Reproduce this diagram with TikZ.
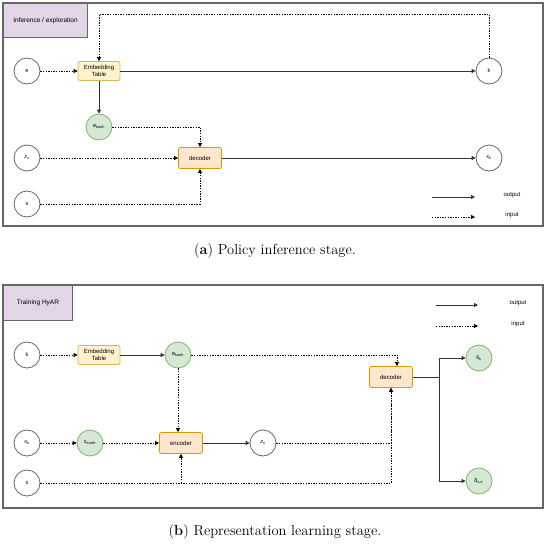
\documentclass[tikz,border=0pt]{standalone}
\usepackage{fontspec}
\usepackage{tikz}
\usetikzlibrary{arrows.meta, positioning, calc}
\newfontfamily\diagfont{Liberation Sans}
\definecolor{lblFill}{HTML}{E1D5E7}
\definecolor{lblLine}{HTML}{9673A6}
\definecolor{embFill}{HTML}{FFF2CC}
\definecolor{embLine}{HTML}{D6B656}
\definecolor{codFill}{HTML}{FFE6CC}
\definecolor{codLine}{HTML}{D79B00}
\definecolor{grnFill}{HTML}{D5E8D4}
\definecolor{grnLine}{HTML}{82B366}
\definecolor{frameGray}{HTML}{666666}

\begin{document}
\begin{tikzpicture}[x=1pt, y=-1pt,
    panel/.style={draw=frameGray, line width=1.2pt},
    labelbox/.style={draw=frameGray, line width=1pt, fill=lblFill, anchor=north west, inner sep=0pt,
      font=\diagfont\fontsize{6.5}{7.5}\selectfont},
    var/.style={circle, draw=frameGray, line width=0.8pt, fill=white, minimum size=26pt, inner sep=0pt,
      font=\diagfont\fontsize{5.5}{6.5}\selectfont},
    gvar/.style={var, draw=grnLine, fill=grnFill},
    embbox/.style={draw=embLine, fill=embFill, line width=0.8pt, rounded corners=2pt, minimum width=42pt,
      minimum height=19pt, inner sep=0pt, align=center, font=\diagfont\fontsize{6}{7.5}\selectfont},
    codbox/.style={draw=codLine, fill=codFill, line width=0.8pt, rounded corners=2pt, minimum width=43pt,
      minimum height=21pt, inner sep=0pt, font=\diagfont\fontsize{6}{7}\selectfont},
    outarrow/.style={draw=black!80, line width=0.9pt, -{Triangle[length=4pt, width=4pt]}},
    inarrow/.style={draw=black, line width=0.7pt, dash pattern=on 1.4pt off 1.2pt, -{Triangle[length=4pt, width=4pt]}},
    legtext/.style={font=\diagfont\fontsize{6}{7}\selectfont},
    captext/.style={font=\fontsize{14.5}{17}\selectfont}]
  \useasboundingbox (0,0) rectangle (550,546);

  % (a) policy inference stage
  \draw[panel] (3,3) rectangle (543,226);
  \node[labelbox, minimum width=84pt, minimum height=34pt] (infLabel) at (3,3) {Inference / exploration};

  \node[var] (eA) at (27,71) {e};
  \node[embbox] (embA) at (99,71) {Embedding\\Table};
  \node[var] (kA) at (489,71) {k};
  \node[gvar] (ekA) at (99,127) {e\textsubscript{kanh}};
  \node[codbox] (decA) at (200,158) {decoder};
  \node[var] (zA) at (27,158) {\textit{z}\textsubscript{x}};
  \node[var] (sA) at (27,204) {s};
  \node[var] (xkA) at (489,158) {x\textsubscript{k}};
  \coordinate (topA) at (99,14);

  \draw[inarrow] (eA) -- (embA);
  \draw[outarrow] (embA) -- (kA);
  \draw[inarrow] (kA.north) |- (topA) -- (embA.north);
  \draw[outarrow] (embA) -- (ekA);
  \draw[inarrow] (ekA) -| (decA.north);
  \draw[inarrow] (zA) -- (decA);
  \draw[inarrow] (sA) -| (decA.south);
  \draw[outarrow] (decA) -- (xkA);

  \coordinate (outA1) at (432,197);
  \coordinate (outA2) at (475,197);
  \coordinate (inA1) at (432,217);
  \coordinate (inA2) at (475,217);
  \draw[outarrow] (outA1) -- (outA2);
  \draw[inarrow] (inA1) -- (inA2);
  \node[legtext] (outTxtA) at (512,195) {output};
  \node[legtext] (inTxtA) at (512,215) {input};

  \node[captext] (capA) at (275,251) {(\textbf{a}) Policy inference stage.};

  % (b) representation learning stage
  \draw[panel] (3,285) rectangle (543,508);
  \node[labelbox, minimum width=69pt, minimum height=35pt] (trainLabel) at (3,285) {Training HyAR};

  \node[var] (kB) at (27,355) {k};
  \node[embbox] (embB) at (99,355) {Embedding\\Table};
  \node[gvar] (ekB) at (178,355) {e\textsubscript{kanh}};
  \node[codbox] (decB) at (391,377) {decoder};
  \node[gvar] (shat) at (479,358) {ŝ\textsubscript{k}};
  \node[gvar] (delta) at (479,481) {δ\textsubscript{s,s'}};
  \node[var] (xkB) at (27,443) {x\textsubscript{k}};
  \node[gvar] (xsc) at (90,443) {x\textsubscript{scale}};
  \node[codbox] (encB) at (181,443) {encoder};
  \node[var] (zB) at (263,443) {\textit{z}\textsubscript{x}};
  \node[var] (sB) at (27,483) {s};
  \coordinate (split) at (439,377);

  \draw[inarrow] (kB) -- (embB);
  \draw[outarrow] (embB) -- (ekB);
  \draw[inarrow] (ekB) -| ($(decB.north)+(6,0)$);
  \draw[inarrow] (ekB) -- (ekB |- encB.north);
  \draw[inarrow] (xkB) -- (xsc);
  \draw[inarrow] (xsc) -- (encB);
  \draw[outarrow] (encB) -- (zB);
  \draw[inarrow] (zB) -| (decB.south);
  \draw[inarrow] (sB) -| (decB.south);
  \draw[inarrow] (sB -| encB.south) -- (encB.south);
  \draw[outarrow] (decB) -- (split) |- (shat);
  \draw[outarrow] (split) |- (delta);

  \coordinate (outB1) at (436,305);
  \coordinate (outB2) at (478,305);
  \coordinate (inB1) at (436,326);
  \coordinate (inB2) at (478,326);
  \draw[outarrow] (outB1) -- (outB2);
  \draw[inarrow] (inB1) -- (inB2);
  \node[legtext] (outTxtB) at (518,303) {output};
  \node[legtext] (inTxtB) at (518,324) {input};

  \node[captext] (capB) at (275,532) {(\textbf{b}) Representation learning stage.};
\end{tikzpicture}
\end{document}
